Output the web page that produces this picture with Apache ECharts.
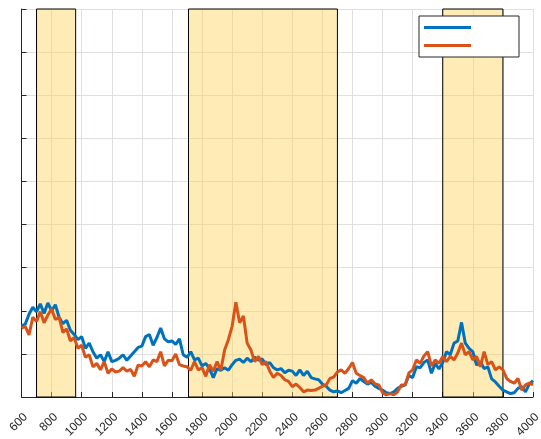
<!DOCTYPE html>
<html>
<head>
<meta charset="utf-8">
<script src="https://cdn.jsdelivr.net/npm/echarts@6/dist/echarts.min.js"></script>
<style>
html, body { margin: 0; padding: 0; background: #fff; }
#main { width: 541px; height: 439px; }
</style>
</head>
<body>
<div id="main"></div>
<script>
// frequency grid of both curves
var xStart = 600;
var xStep = 25;

// blue curve
var blueVals = [
    1.65, 1.69, 1.92, 2.08, 1.98, 2.16, 1.94, 2.18, 2.00, 2.14, 1.85, 1.70, 1.78, 1.55, 1.45, 1.33, 1.40,
    1.13, 1.25, 1.05, 0.90, 0.98, 0.82, 1.05, 0.82, 0.85, 0.90, 0.98, 0.85, 0.95, 1.05, 1.15, 1.18,
    1.40, 1.45, 1.20, 1.38, 1.60, 1.35, 1.28, 1.30, 1.22, 1.35, 0.98, 0.92, 1.05, 0.86, 0.90, 0.72,
    0.78, 0.65, 0.45, 0.66, 0.62, 0.68, 0.62, 0.75, 0.85, 0.88, 0.80, 0.90, 0.82, 0.92, 0.86, 0.88,
    0.75, 0.80, 0.68, 0.63, 0.66, 0.56, 0.62, 0.60, 0.50, 0.63, 0.50, 0.60, 0.45, 0.42, 0.40, 0.30,
    0.25, 0.16, 0.12, 0.14, 0.10, 0.15, 0.20, 0.38, 0.32, 0.43, 0.36, 0.30, 0.34, 0.25, 0.20, 0.16,
    0.10, 0.08, 0.12, 0.20, 0.25, 0.28, 0.50, 0.45, 0.70, 0.68, 0.80, 0.86, 0.55, 0.78, 0.65, 0.80,
    1.05, 0.98, 1.25, 1.30, 1.73, 1.25, 1.13, 1.05, 0.74, 0.82, 0.66, 0.70, 0.42, 0.35, 0.25, 0.16,
    0.12, 0.08, 0.10, 0.20, 0.24, 0.12, 0.30, 0.38
];

// orange curve
var orangeVals = [
    1.60, 1.64, 1.44, 1.85, 1.75, 1.98, 1.72, 1.90, 2.04, 1.80, 1.85, 1.50, 1.58, 1.30, 1.38, 1.13, 1.20,
    0.92, 0.98, 0.70, 0.78, 0.63, 0.82, 0.55, 0.65, 0.58, 0.60, 0.68, 0.60, 0.64, 0.48, 0.74, 0.72,
    0.82, 0.70, 0.86, 0.82, 1.05, 0.72, 0.85, 0.84, 1.00, 0.75, 0.72, 0.70, 0.62, 0.82, 0.63, 0.68,
    0.48, 0.75, 0.60, 0.82, 0.62, 1.09, 1.33, 1.64, 2.20, 1.72, 1.88, 1.25, 1.09, 0.82, 0.94, 0.75,
    0.82, 0.60, 0.45, 0.55, 0.50, 0.40, 0.36, 0.24, 0.30, 0.22, 0.12, 0.16, 0.15, 0.16, 0.20, 0.25,
    0.28, 0.43, 0.46, 0.58, 0.63, 0.55, 0.66, 0.80, 0.55, 0.50, 0.45, 0.32, 0.40, 0.30, 0.28, 0.10,
    0.05, 0.08, 0.05, 0.12, 0.28, 0.28, 0.56, 0.63, 0.86, 0.78, 0.95, 1.05, 0.72, 0.86, 0.78, 0.94,
    0.82, 0.94, 0.86, 1.02, 1.25, 0.98, 1.05, 0.86, 0.94, 0.70, 1.05, 0.75, 0.82, 0.63, 0.70, 0.63,
    0.43, 0.36, 0.32, 0.43, 0.16, 0.28, 0.32, 0.28
];

// shaded bands (start, end)
var bands = [
    [700, 960],
    [1710, 2700],
    [3400, 3800]
];

var xTicks = [600, 800, 1000, 1200, 1400, 1600, 1800, 2000, 2200, 2400, 2600, 2800, 3000, 3200, 3400, 3600, 3800, 4000];

function pairs(vals) {
    var out = [];
    for (var i = 0; i < vals.length; i++) {
        out.push([xStart + i * xStep, vals[i]]);
    }
    return out;
}

var chart = echarts.init(document.getElementById('main'), null, { renderer: 'canvas' });

var option = {
    animation: false,
    textStyle: { fontFamily: 'Liberation Sans' },
    grid: { left: 21.5, right: 8, top: 9, bottom: 42, containLabel: false, outerBoundsMode: 'none' },
    legend: {
        orient: 'vertical',
        left: 419,
        top: 16,
        width: 100,
        backgroundColor: '#fff',
        borderColor: '#262626',
        borderWidth: 1,
        padding: [10, 48, 10, 5],
        itemGap: 15,
        itemWidth: 47,
        itemHeight: 3,
        icon: 'rect',
        formatter: function () { return ''; },
        selectedMode: false,
        data: ['blue', 'orange']
    },
    xAxis: {
        type: 'value',
        min: xTicks[0],
        max: xTicks[xTicks.length - 1],
        interval: 200,
        axisLine: { show: true, lineStyle: { color: '#262626', width: 1 } },
        axisTick: { show: true, inside: true, length: 5, lineStyle: { color: '#262626' } },
        axisLabel: {
            rotate: 45, fontSize: 12, color: '#262626', margin: 14,
            align: 'right', verticalAlign: 'top',
            showMinLabel: true, showMaxLabel: true,
            formatter: function (v) { return String(v); }
        },
        splitLine: { show: true, lineStyle: { color: '#dfdfdf', width: 1 } }
    },
    yAxis: {
        type: 'value',
        min: 0,
        max: 9,
        interval: 1,
        axisLine: { show: true, lineStyle: { color: '#262626', width: 1 } },
        axisTick: { show: true, inside: true, length: 5, lineStyle: { color: '#262626' } },
        axisLabel: { show: false },
        splitLine: { show: true, lineStyle: { color: '#dfdfdf', width: 1 } }
    },
    series: [
        {
            name: 'blue',
            type: 'line',
            data: pairs(blueVals),
            symbol: 'none',
            z: 3,
            lineStyle: { color: '#0072BD', width: 3 },
            itemStyle: { color: '#0072BD' },
            markArea: {
                silent: true,
                itemStyle: { color: 'rgba(255, 210, 90, 0.45)', borderColor: '#000', borderWidth: 1 },
                data: bands.map(function (b) { return [{ xAxis: b[0] }, { xAxis: b[1] }]; })
            }
        },
        {
            name: 'orange',
            type: 'line',
            data: pairs(orangeVals),
            symbol: 'none',
            z: 4,
            lineStyle: { color: '#D95319', width: 3 },
            itemStyle: { color: '#D95319' }
        }
    ]
};

chart.setOption(option);
</script>
</body>
</html>
